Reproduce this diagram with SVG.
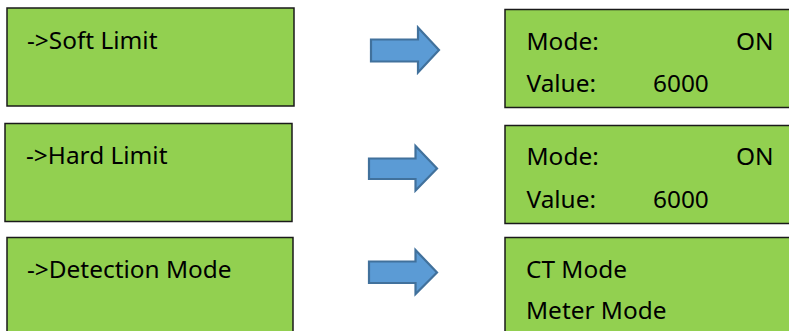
<svg xmlns="http://www.w3.org/2000/svg" width="789" height="331" viewBox="0 0 789 331">
<style>
.box{fill:#92D050;stroke:#1a1a1a;stroke-width:1.5}
.t{font-family:"Noto Sans","Open Sans",sans-serif;font-size:24.4px;fill:#000}
.arr{fill:#5B9BD5;stroke:#41719C;stroke-width:2.2;stroke-linejoin:miter}
</style>
<rect width="789" height="331" fill="#fff"/>
<g id="soft-limit"><rect class="box" x="7" y="8" width="287" height="98"/><text class="t" x="27" y="49">-&gt;Soft Limit</text></g>
<g id="soft-limit-values"><rect class="box" x="505" y="9.5" width="300" height="98"/><text class="t" x="526.5" y="50">Mode:</text><text class="t" x="736" y="50">ON</text><text class="t" x="526.5" y="91.5">Value:</text><text class="t" x="653" y="91.5">6000</text></g>
<g id="hard-limit"><rect class="box" x="5" y="123.5" width="287" height="98"/><text class="t" x="26" y="164">-&gt;Hard Limit</text></g>
<g id="hard-limit-values"><rect class="box" x="505" y="125.5" width="300" height="98"/><text class="t" x="526.5" y="165">Mode:</text><text class="t" x="736" y="165">ON</text><text class="t" x="526.5" y="207.5">Value:</text><text class="t" x="653" y="207.5">6000</text></g>
<g id="detection-mode"><rect class="box" x="7" y="237.5" width="286" height="100"/><text class="t" x="27" y="278">-&gt;Detection Mode</text></g>
<g id="detection-mode-options"><rect class="box" x="505" y="237.5" width="300" height="100"/><text class="t" x="526" y="278">CT Mode</text><text class="t" x="526" y="319">Meter Mode</text></g>
<g id="connectors">
<polygon class="arr" points="371,39.5 418,39.5 418,27.5 439,50 418,72.5 418,61.5 371,61.5"/>
<polygon class="arr" points="369,158.5 415.5,158.5 415.5,146 437,168.5 415.5,190.5 415.5,179 369,179"/>
<polygon class="arr" points="369,261.5 415.5,261.5 415.5,250 437,272.5 415.5,294 415.5,283 369,283"/>
</g>
</svg>
